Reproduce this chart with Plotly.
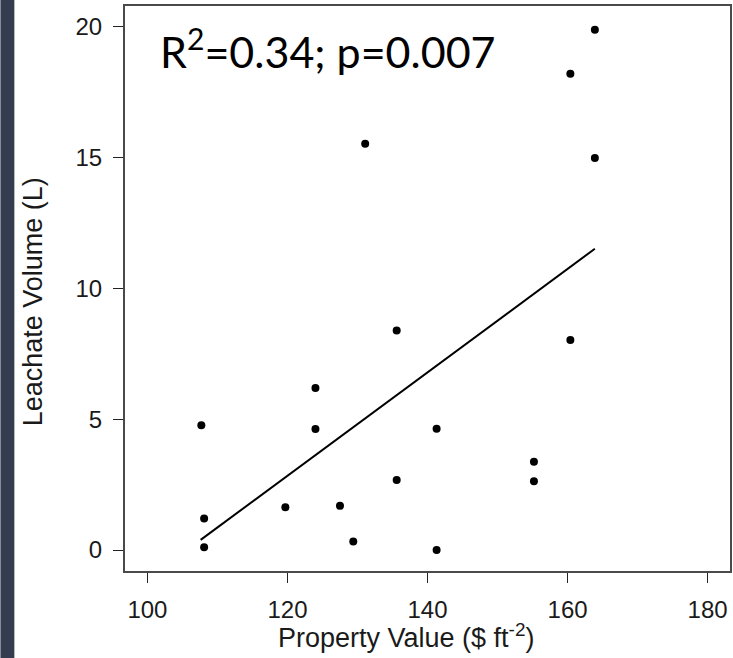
import plotly.graph_objects as go

# Property value ($ per square foot) and measured leachate volume (L)
property_value = [107.7, 108.1, 108.1, 119.7, 124.0, 124.0, 127.5, 129.4, 131.1,
                  135.6, 135.6, 141.3, 141.3, 155.2, 155.2, 160.4, 160.4, 163.9, 163.9]
leachate_volume = [4.77, 1.21, 0.11, 1.64, 6.20, 4.63, 1.69, 0.33, 15.53,
                   8.39, 2.68, 4.64, 0.00, 3.38, 2.63, 8.03, 18.21, 19.89, 14.99]

# Fitted linear trend, evaluated at the ends of the observed range
fit_x = [107.6, 163.9]
fit_y = [0.39, 11.52]

x_ticks = [100, 120, 140, 160, 180]
y_ticks = [0, 5, 10, 15, 20]
stats_text = "R<sup>2</sup>=0.34; p=0.007"

W, H = 733, 658
ML, MR, MT, MB = 125, 1, 6, 87
pw, ph = W - ML - MR, H - MT - MB

fig = go.Figure()
fig.add_trace(go.Scatter(x=fit_x, y=fit_y, mode="lines",
                         line=dict(color="black", width=2), hoverinfo="skip"))
fig.add_trace(go.Scatter(x=property_value, y=leachate_volume, mode="markers",
                         marker=dict(color="black", size=8)))

axis_common = dict(
    showgrid=False, zeroline=False, showline=True, mirror=True,
    linecolor="#4a4a4a", linewidth=2,
    ticks="outside", ticklen=10, tickwidth=1, tickcolor="#222",
    tickfont=dict(family="Liberation Sans, Arial, sans-serif", size=24, color="#1a1a1a"),
    ticklabelstandoff=6,
)

fig.update_layout(
    width=W, height=H,
    margin=dict(l=ML, r=MR, t=MT, b=MB),
    paper_bgcolor="white", plot_bgcolor="white",
    showlegend=False,
    xaxis=dict(range=[96.8, 183.2], tickvals=x_ticks, **axis_common),
    yaxis=dict(range=[-0.8, 20.8], tickvals=y_ticks, **axis_common),
    shapes=[dict(type="rect", xref="paper", yref="paper",
                 x0=-ML / pw, x1=(14 - ML) / pw, y0=-MB / ph, y1=1 + MT / ph,
                 fillcolor="#333d4f", line=dict(width=0), layer="below")],
    annotations=[
        dict(text=stats_text, xref="paper", yref="paper",
             x=(158 - ML) / pw, y=(571 - 48) / ph, xanchor="left", yanchor="middle",
             showarrow=False,
             font=dict(family="Lato, Carlito, sans-serif", size=43, color="black")),
        dict(text="Leachate Volume (L)", xref="paper", yref="paper",
             x=(33 - ML) / pw, y=(571 - 302) / ph, textangle=-90,
             xanchor="center", yanchor="middle", showarrow=False,
             font=dict(family="Liberation Sans, Arial, sans-serif", size=27, color="#1a1a1a")),
        dict(text="Property Value ($ ft<sup>-2</sup>)", xref="paper", yref="paper",
             x=(407 - ML) / pw, y=(571 - 636) / ph,
             xanchor="center", yanchor="middle", showarrow=False,
             font=dict(family="Liberation Sans, Arial, sans-serif", size=27, color="#1a1a1a")),
    ],
)

fig.write_html("out.html")
